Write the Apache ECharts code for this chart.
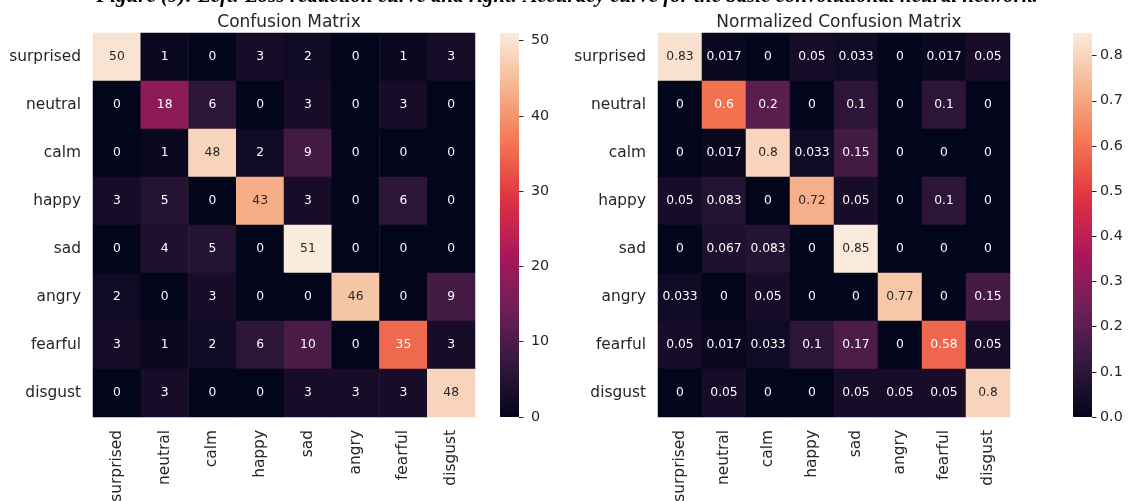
<!DOCTYPE html>
<html>
<head>
<meta charset="utf-8">
<script src="https://cdn.jsdelivr.net/npm/echarts@6/dist/echarts.min.js"></script>
<style>
html,body{margin:0;padding:0;background:#fff;}
#chart{width:1128px;height:501px;}
</style>
</head>
<body>
<div id="chart"></div>
<script>
// ---- data ----
const classes = ['surprised','neutral','calm','happy','sad','angry','fearful','disgust'];
const countsSurprised = [50,1,0,3,2,0,1,3];
const countsNeutral   = [0,18,6,0,3,0,3,0];
const countsCalm      = [0,1,48,2,9,0,0,0];
const countsHappy     = [3,5,0,43,3,0,6,0];
const countsSad       = [0,4,5,0,51,0,0,0];
const countsAngry     = [2,0,3,0,0,46,0,9];
const countsFearful   = [3,1,2,6,10,0,35,3];
const countsDisgust   = [0,3,0,0,3,3,3,48];

const normSurprised = [0.83,0.017,0,0.05,0.033,0,0.017,0.05];
const normNeutral   = [0,0.6,0.2,0,0.1,0,0.1,0];
const normCalm      = [0,0.017,0.8,0.033,0.15,0,0,0];
const normHappy     = [0.05,0.083,0,0.72,0.05,0,0.1,0];
const normSad       = [0,0.067,0.083,0,0.85,0,0,0];
const normAngry     = [0.033,0,0.05,0,0,0.77,0,0.15];
const normFearful   = [0.05,0.017,0.033,0.1,0.17,0,0.58,0.05];
const normDisgust   = [0,0.05,0,0,0.05,0.05,0.05,0.8];

const countTicks = [0,10,20,30,40,50];
const normTicks = [0.0,0.1,0.2,0.3,0.4,0.5,0.6,0.7,0.8];
const countMax = 51;
const normMax = 0.85;

const titleLeft = 'Confusion Matrix';
const titleRight = 'Normalized Confusion Matrix';
const caption = 'Figure (9): Left: Loss reduction curve and right: Accuracy curve for the basic convolutional neural network.';

// rocket colormap stops
const rocket = ['#03051a','#35193e','#701f57','#ad1759','#e13342','#f37651','#f6b48f','#faebdd'];

// ---- helpers ----
function hexToRgb(h){return [parseInt(h.substr(1,2),16),parseInt(h.substr(3,2),16),parseInt(h.substr(5,2),16)];}
function cmap(t){
  t=Math.max(0,Math.min(1,t));
  const p=t*(rocket.length-1); const i=Math.min(Math.floor(p),rocket.length-2); const f=p-i;
  const a=hexToRgb(rocket[i]), b=hexToRgb(rocket[i+1]);
  return a.map((v,k)=>v+(b[k]-v)*f);
}
function lum(rgb){
  const c=rgb.map(v=>{v/=255;return v<=0.03928?v/12.92:Math.pow((v+0.055)/1.055,2.4);});
  return 0.2126*c[0]+0.7152*c[1]+0.0722*c[2];
}
function buildData(rows,max){
  const out=[];
  rows.forEach((row,y)=>row.forEach((v,x)=>{
    const L=lum(cmap(v/max));
    out.push({value:[x,y,v],label:{color:L>0.408?'#262626':'#ffffff'}});
  }));
  return out;
}
const countRows=[countsSurprised,countsNeutral,countsCalm,countsHappy,countsSad,countsAngry,countsFearful,countsDisgust];
const normRows=[normSurprised,normNeutral,normCalm,normHappy,normSad,normAngry,normFearful,normDisgust];

const FONT='DejaVu Sans';
const TXT='#262626';

function gradient(){
  return new echarts.graphic.LinearGradient(0,1,0,0,rocket.map((c,i)=>({offset:i/(rocket.length-1),color:c})));
}
function catX(gi){
  return {type:'category',gridIndex:gi,data:classes,position:'bottom',
    axisLine:{show:false},axisTick:{show:false},splitLine:{show:false},
    axisLabel:{rotate:90,margin:13,fontFamily:FONT,fontSize:15.4,color:TXT,interval:0}};
}
function catY(gi){
  return {type:'category',gridIndex:gi,data:classes,inverse:true,
    axisLine:{show:false},axisTick:{show:false},splitLine:{show:false},
    axisLabel:{margin:12,fontFamily:FONT,fontSize:15.4,color:TXT,interval:0}};
}
function cbX(gi){
  return {type:'category',gridIndex:gi,data:['cb'],show:false};
}
function cbY(gi,max,ticks,fmt,margin){
  return {type:'value',gridIndex:gi,min:0,max:max,position:'right',
    interval:ticks[1]-ticks[0],
    axisLine:{show:false},splitLine:{show:false},
    axisTick:{show:true,length:4.5,lineStyle:{color:TXT,width:1}},
    axisLabel:{margin:margin,fontFamily:FONT,fontSize:14.3,color:TXT,formatter:fmt,
      showMaxLabel:false}};
}
function grid(l,w){return {left:l,top:33,width:w,height:384,outerBoundsMode:'none',containLabel:false};}

const chart=echarts.init(document.getElementById('chart'),null,{renderer:'canvas'});
chart.setOption({
  backgroundColor:'#ffffff',
  animation:false,
  title:[
    {text:titleLeft,left:284,top:9,textAlign:'center',textStyle:{fontFamily:FONT,fontSize:17,fontWeight:'normal',color:TXT}},
    {text:titleRight,left:834,top:9,textAlign:'center',textStyle:{fontFamily:FONT,fontSize:17,fontWeight:'normal',color:TXT}}
  ],
  graphic:[
    {type:'text',x:567,y:7,style:{text:caption,font:'italic bold 21px "Liberation Serif"',fill:'#000',align:'center',verticalAlign:'bottom'}}
  ],
  grid:[grid(93,382),grid(500,19),grid(658,352),grid(1073,19)],
  xAxis:[catX(0),cbX(1),catX(2),cbX(3)],
  yAxis:[catY(0),cbY(1,countMax,countTicks,v=>String(v),12),catY(2),cbY(3,normMax,normTicks,v=>v.toFixed(1),8)],
  visualMap:[
    {type:'continuous',show:false,seriesIndex:0,min:0,max:countMax,inRange:{color:rocket}},
    {type:'continuous',show:false,seriesIndex:2,min:0,max:normMax,inRange:{color:rocket}}
  ],
  series:[
    {type:'heatmap',xAxisIndex:0,yAxisIndex:0,data:buildData(countRows,countMax),
      label:{show:true,fontFamily:FONT,fontSize:12.3,formatter:p=>String(p.value[2])},
      itemStyle:{borderWidth:0},emphasis:{disabled:true}},
    {type:'bar',xAxisIndex:1,yAxisIndex:1,data:[countMax],barWidth:'100%',
      itemStyle:{color:gradient()},silent:true},
    {type:'heatmap',xAxisIndex:2,yAxisIndex:2,data:buildData(normRows,normMax),
      label:{show:true,fontFamily:FONT,fontSize:12.3,formatter:p=>String(p.value[2])},
      itemStyle:{borderWidth:0},emphasis:{disabled:true}},
    {type:'bar',xAxisIndex:3,yAxisIndex:3,data:[normMax],barWidth:'100%',
      itemStyle:{color:gradient()},silent:true}
  ]
});
</script>
</body>
</html>
